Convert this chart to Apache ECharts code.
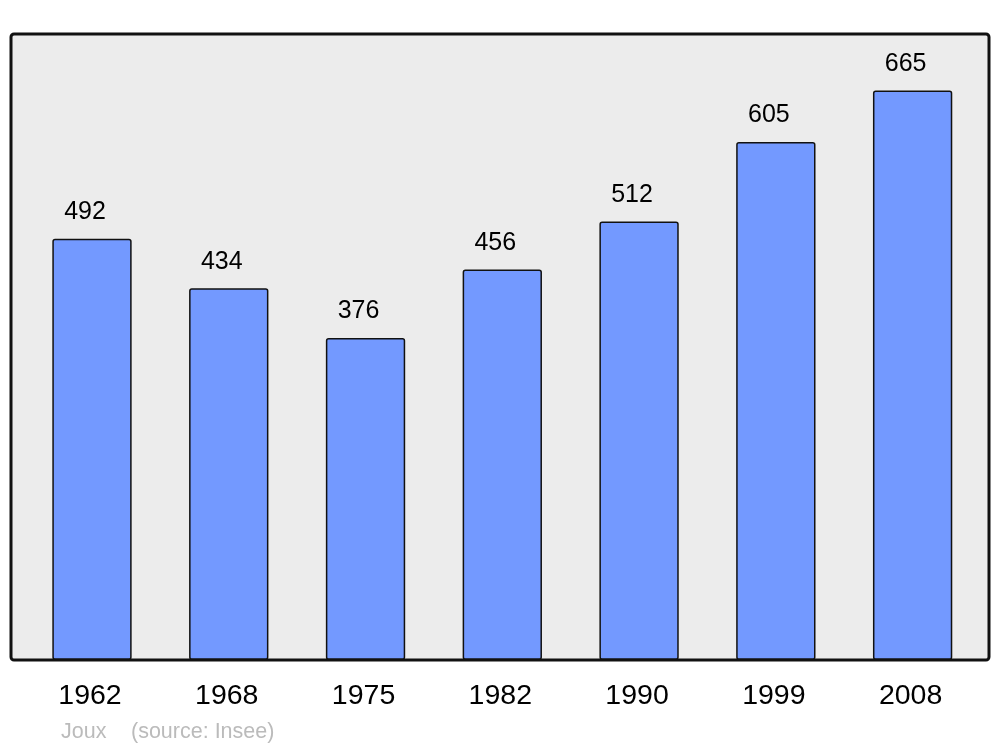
<!DOCTYPE html>
<html>
<head>
<meta charset="utf-8">
<script src="https://cdn.jsdelivr.net/npm/echarts@6/dist/echarts.min.js"></script>
<style>html,body{margin:0;padding:0;background:#fff;}#c{width:1000px;height:747px;}</style>
</head>
<body>
<div id="c"></div>
<script>
const years = ['1962','1968','1975','1982','1990','1999','2008'];
const population = [492, 434, 376, 456, 512, 605, 665];
const commune = 'Joux';
const source = '(source: Insee)';

const chart = echarts.init(document.getElementById('c'), null, {renderer: 'canvas'});
chart.setOption({
  animation: false,
  backgroundColor: '#ffffff',
  textStyle: {fontFamily: 'Liberation Sans, Arial, sans-serif'},
  grid: {left: 23.6, right: 19, top: 34, bottom: 87},
  graphic: [
    {type: 'rect', z: -10, shape: {x: 11, y: 34, width: 978, height: 626, r: 3},
     style: {fill: '#ececec', stroke: null}},
    {type: 'rect', z: 100, shape: {x: 11, y: 34, width: 978, height: 626, r: 3},
     style: {fill: null, stroke: '#111111', lineWidth: 3}},
    {type: 'text', left: 61, top: 721, style: {text: commune, fill: '#bbbbbb', font: '21.5px "Liberation Sans", Arial, sans-serif'}},
    {type: 'text', left: 131, top: 721, style: {text: source, fill: '#bbbbbb', font: '21.5px "Liberation Sans", Arial, sans-serif'}}
  ],
  xAxis: {
    type: 'category', data: years,
    axisLine: {show: false}, axisTick: {show: false},
    axisLabel: {color: '#000', fontSize: 28.5, margin: 22, padding: [0, 4, 0, 0], fontFamily: 'Liberation Sans'}
  },
  yAxis: {
    type: 'value', min: 0, max: 731,
    show: false, splitLine: {show: false}
  },
  series: [{
    type: 'bar', data: population, barWidth: '58%',
    itemStyle: {color: '#7399ff', borderColor: '#111', borderWidth: 1.5, borderRadius: 2},
    label: {show: true, position: 'top', distance: 14, offset: [-7, 0], color: '#000', fontSize: 25, fontFamily: 'Liberation Sans'}
  }]
});
</script>
</body>
</html>
